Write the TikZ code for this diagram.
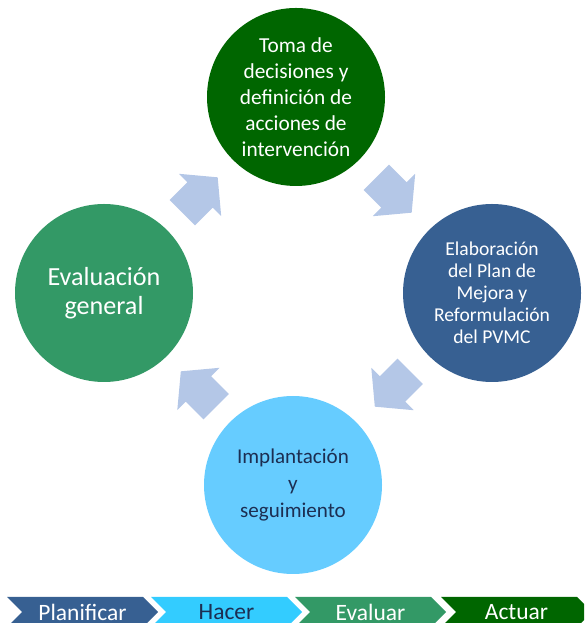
\documentclass[tikz,border=0pt]{standalone}
\usepackage{fontspec}
\setmainfont{Carlito}
\usetikzlibrary{calc,shapes.symbols}
\definecolor{verdeosc}{HTML}{006600}
\definecolor{verdemed}{HTML}{339966}
\definecolor{azulosc}{HTML}{376092}
\definecolor{celeste}{HTML}{66CCFF}
\definecolor{celesteb}{HTML}{33CCFF}
\definecolor{azulgris}{HTML}{B4C7E7}
\definecolor{textoosc}{HTML}{1C2E52}

\begin{document}
\begin{tikzpicture}[
    x=0.75pt,y=0.75pt,
    circulo/.style={circle,minimum size=133.5pt,inner sep=0pt,align=center},
    bloque/.style={signal,signal from=west,signal to=east,minimum width=113.25pt,minimum height=22.5pt,inner sep=0pt,font=\fontsize{17.6}{21}\selectfont},
    flecha/.pic={\fill[azulgris] (-25,-18) -- (0,-18) -- (0,-30) -- (25,0) -- (0,30) -- (0,18) -- (-25,18) -- cycle;}
    ]
    \useasboundingbox (0,0) rectangle (584,623);
    \clip (0,0) rectangle (584,623);
    \node[circulo,fill=verdeosc,text=white,font=\fontsize{16}{19.4}\selectfont] (toma) at (296,526) {Toma de\\decisiones y\\definición de\\acciones de\\intervención};
    \node[circulo,fill=azulosc,text=white,font=\fontsize{14.7}{16.5}\selectfont] (plan) at (492,330) {Elaboración\\del Plan de\\Mejora y\\Reformulación\\del PVMC};
    \node[circulo,fill=celeste,text=textoosc,font=\fontsize{15.8}{20.2}\selectfont] (impl) at (293,138) {Implantación\\y\\seguimiento};
    \node[circulo,fill=verdemed,text=white,font=\fontsize{19.6}{22}\selectfont] (eval) at (104,330) {Evaluación\\general};
    \pic[rotate=45] at ($(eval)!0.5!(toma)$) {flecha};
    \pic[rotate=-45] at ($(toma)!0.5!(plan)$) {flecha};
    \pic[rotate=-135] at ($(plan)!0.5!(impl)$) {flecha};
    \pic[rotate=135] at ($(impl)!0.5!(eval)$) {flecha};
    \node[bloque,fill=azulosc,text=white] (planificar) at (82.5,11) {Planificar};
    \node[bloque,fill=celesteb,text=textoosc] (hacer) at (226.5,11) {Hacer};
    \node[bloque,fill=verdemed,text=white] (evaluar) at (370.5,11) {Evaluar};
    \node[bloque,fill=verdeosc,text=white] (actuar) at (516.5,11) {Actuar};
\end{tikzpicture}
\end{document}
